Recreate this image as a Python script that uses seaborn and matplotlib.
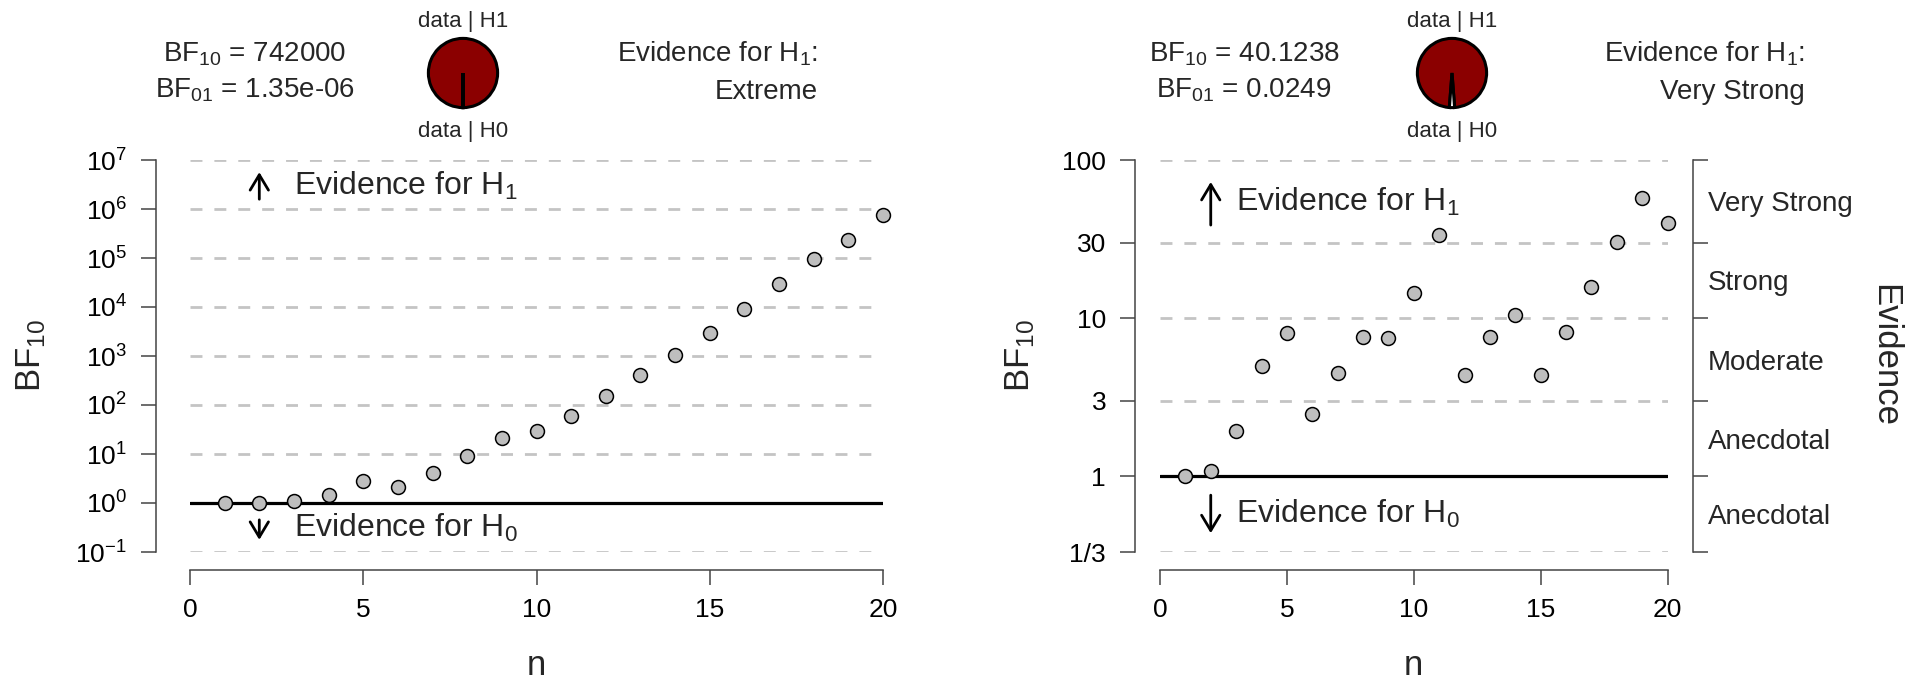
import numpy as np
import pandas as pd
import matplotlib
matplotlib.use("Agg")
import matplotlib.pyplot as plt
import matplotlib.ticker as mticker
import matplotlib.transforms as mtrans
import seaborn as sns

# sequential Bayes factors
n_obs = [1, 2, 3, 4, 5, 6, 7, 8, 9, 10, 11, 12, 13, 14, 15, 16, 17, 18, 19, 20]
bf_left = [1.0, 1.0, 1.08, 1.44, 2.83, 2.10, 4.13, 9.2, 21.6, 29.6,
           60, 155, 418, 1025, 3000, 9040, 28900, 95800, 228000, 742000]
bf_right = [1.0, 1.087, 1.95, 5.0, 8.03, 2.47, 4.54, 7.64, 7.46, 14.4,
            33.4, 4.38, 7.61, 10.5, 4.41, 8.15, 15.7, 30.5, 57.3, 40.1238]

x_ticks = [0, 5, 10, 15, 20]
left_ticks = [1e-1, 1e0, 1e1, 1e2, 1e3, 1e4, 1e5, 1e6, 1e7]
left_ticklabels = [r"$10^{-1}$", r"$10^{0}$", r"$10^{1}$", r"$10^{2}$", r"$10^{3}$",
                   r"$10^{4}$", r"$10^{5}$", r"$10^{6}$", r"$10^{7}$"]
right_ticks = [1/3, 1, 3, 10, 30, 100]
right_ticklabels = ["1/3", "1", "3", "10", "30", "100"]
evidence_cats = ["Anecdotal", "Anecdotal", "Moderate", "Strong", "Very Strong"]

bf10_text = ["742000", "40.1238"]
bf01_text = ["1.35e-06", "0.0249"]
evidence_text = ["Extreme", "Very Strong"]

sns.set_style("white")
plt.rcParams['font.family'] = ['Liberation Sans', 'DejaVu Sans']
plt.rcParams['mathtext.fontset'] = 'custom'
plt.rcParams['mathtext.rm'] = 'Liberation Sans'
plt.rcParams['mathtext.it'] = 'Liberation Sans:italic'
plt.rcParams['mathtext.bf'] = 'Liberation Sans:bold'

W, H = 1914, 680
fig = plt.figure(figsize=(W / 100, H / 100), dpi=100)


def fx(px):
    return px / W


def fy(py):
    return 1 - py / H


AX_COL = '#444444'
GRID_COL = '#C4C4C4'


def draw_panel(ax, bf, ticks, ticklabels, left_off, ylab_x, h1_arrow, h1_base, h0_arrow, h0_base):
    df = pd.DataFrame({'n': n_obs, 'BF10': bf})
    ax.set_yscale('log')
    for t in ticks:
        if t != 1:
            ax.axhline(t, color=GRID_COL, lw=2.0, ls=(0, (4.3, 4.3)), zorder=1)
    ax.axhline(1, color='black', lw=2.3, zorder=2)
    sns.scatterplot(data=df, x='n', y='BF10', ax=ax, s=100, color='#BEBEBE',
                    edgecolor='black', linewidth=1.1, zorder=5, clip_on=False, legend=False)
    ax.set_xlim(0, 20)
    ax.set_ylim(ticks[0], ticks[-1])

    for s in ['top', 'right']:
        ax.spines[s].set_visible(False)
    ax.spines['left'].set_position(('outward', left_off))
    ax.spines['bottom'].set_position(('outward', 13))
    ax.spines['left'].set_bounds(ticks[0], ticks[-1])
    ax.spines['bottom'].set_bounds(0, 20)
    for s in ['left', 'bottom']:
        ax.spines[s].set_color(AX_COL)
        ax.spines[s].set_linewidth(1.1)

    ax.set_xticks(x_ticks)
    ax.set_xticklabels([str(v) for v in x_ticks])
    ax.set_yticks(ticks)
    ax.set_yticklabels(ticklabels)
    ax.yaxis.set_minor_locator(mticker.NullLocator())
    ax.tick_params(axis='both', which='major', bottom=True, left=True, direction='out',
                   length=10.8, width=1.1, color=AX_COL, labelsize=19, labelcolor='black')
    ax.tick_params(axis='y', pad=10)
    ax.tick_params(axis='x', pad=9)

    ax.set_xlabel('n', fontsize=25)
    ax.xaxis.set_label_coords(0.5, -0.314)
    ax.xaxis.label.set_va('baseline')
    ax.set_ylabel(r'BF$_{10}$', fontsize=25)
    ax.yaxis.set_label_coords(ylab_x, 0.5)
    ax.yaxis.label.set_va('center')

    trans = mtrans.blended_transform_factory(ax.transData, ax.transAxes)
    arrow = dict(arrowstyle='->,head_length=0.5,head_width=0.3', lw=2.0, color='black',
                 shrinkA=0, shrinkB=0, mutation_scale=22)
    ax.annotate('', xy=(2, h1_arrow[1]), xytext=(2, h1_arrow[0]), xycoords=trans,
                textcoords=trans, arrowprops=arrow)
    ax.annotate('', xy=(2, h0_arrow[1]), xytext=(2, h0_arrow[0]), xycoords=trans,
                textcoords=trans, arrowprops=arrow)
    ax.text(3, h1_base, r'Evidence for H$_1$', transform=trans, fontsize=23, va='baseline')
    ax.text(3, h0_base, r'Evidence for H$_0$', transform=trans, fontsize=23, va='baseline')


def draw_header(bf, bf10, bf01, ev, bf_cx, pie_cx, ev_right):
    fig.text(fx(bf_cx), fy(62), r'BF$_{10}$ = ' + bf10, ha='center', va='baseline', fontsize=20)
    fig.text(fx(bf_cx), fy(98), r'BF$_{01}$ = ' + bf01, ha='center', va='baseline', fontsize=20)
    fig.text(fx(ev_right), fy(62), r'Evidence for H$_1$:', ha='right', va='baseline', fontsize=20)
    fig.text(fx(ev_right), fy(99), ev, ha='right', va='baseline', fontsize=20)
    fig.text(fx(pie_cx), fy(27), 'data | H1', ha='center', va='baseline', fontsize=16)
    fig.text(fx(pie_cx), fy(137), 'data | H0', ha='center', va='baseline', fontsize=16)

    r = 36
    pa = fig.add_axes([fx(pie_cx - r), fy(73 + r), 2 * r / W, 2 * r / H])
    p1 = bf / (1 + bf)
    p0 = 1 / (1 + bf)
    start = 270 - 360 * p1 - 180 * p0
    pa.pie([p1, p0], colors=['#8B0000', 'white'], startangle=start,
           wedgeprops=dict(edgecolor='black', linewidth=2.2))
    pa.set_xlim(-1.04, 1.04)
    pa.set_ylim(-1.04, 1.04)
    pa.set_aspect('equal')
    pa.axis('off')


ax1 = fig.add_axes([fx(190), fy(552), (883 - 190) / W, 392 / H])
draw_panel(ax1, bf_left, left_ticks, left_ticklabels, 24.5, -0.229,
           (0.900, 0.969), 0.911, (0.082, 0.031), 0.038)

ax2 = fig.add_axes([fx(1160), fy(552), 507.5 / W, 392 / H])
draw_panel(ax2, bf_right, right_ticks, right_ticklabels, 18, -0.276,
           (0.834, 0.944), 0.870, (0.145, 0.048), 0.074)

# evidence category axis on the right panel
ax_ev = ax2.twinx()
ax_ev.set_yscale('log')
ax_ev.set_ylim(right_ticks[0], right_ticks[-1])
for s in ['left', 'top', 'bottom']:
    ax_ev.spines[s].set_visible(False)
ax_ev.spines['right'].set_position(('outward', 18.4))
ax_ev.spines['right'].set_bounds(right_ticks[0], right_ticks[-1])
ax_ev.spines['right'].set_color(AX_COL)
ax_ev.spines['right'].set_linewidth(1.1)
ax_ev.set_yticks(right_ticks)
ax_ev.set_yticklabels([''] * len(right_ticks))
mids = [np.sqrt(a * b) for a, b in zip(right_ticks[:-1], right_ticks[1:])]
ax_ev.yaxis.set_minor_locator(mticker.FixedLocator(mids))
ax_ev.yaxis.set_minor_formatter(mticker.FixedFormatter(evidence_cats))
ax_ev.tick_params(axis='y', which='major', right=True, direction='out',
                  length=10.8, width=1.1, color=AX_COL)
ax_ev.tick_params(axis='y', which='minor', right=True, length=0, pad=10.8, labelsize=20)
ax_ev.set_ylabel('Evidence', fontsize=25, rotation=-90)
ax_ev.yaxis.set_label_coords(1.4286, 0.5)
ax_ev.yaxis.label.set_va('center')
ax_ev.yaxis.label.set_ha('center')

draw_header(bf_left[-1], bf10_text[0], bf01_text[0], evidence_text[0], 255, 463, 818)
draw_header(bf_right[-1], bf10_text[1], bf01_text[1], evidence_text[1], 1244, 1452, 1805)

fig.savefig('out.png', dpi=100)
